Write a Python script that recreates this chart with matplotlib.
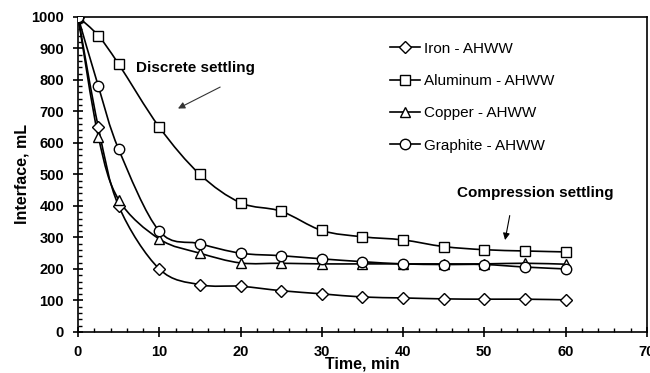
import numpy as np
import matplotlib
matplotlib.use("Agg")
import matplotlib.pyplot as plt
from matplotlib.path import Path
from matplotlib.patches import PathPatch
from matplotlib.lines import Line2D
from matplotlib.ticker import MultipleLocator

plt.rcParams['font.family'] = ['Liberation Sans', 'DejaVu Sans']

# Data (time in min, interface in mL)
time = [0, 2.5, 5, 10, 15, 20, 25, 30, 35, 40, 45, 50, 55, 60]
iron = [1000, 650, 400, 200, 150, 145, 131, 121, 111, 108, 105, 104, 104, 102]
aluminum = [1000, 940, 850, 650, 500, 410, 383, 322, 302, 292, 271, 261, 257, 254]
copper = [1000, 620, 420, 295, 250, 219, 218, 216, 216, 216, 216, 216, 218, 215]
graphite = [1000, 780, 580, 320, 280, 250, 242, 232, 223, 216, 214, 214, 206, 200]

labels = ['Iron - AHWW', 'Aluminum - AHWW', 'Copper - AHWW', 'Graphite - AHWW']
markers = ['D', 's', '^', 'o']
msizes = [6, 7.5, 7.5, 7.5]


def smooth_path(x, y):
    # Excel-like smoothed line: cubic bezier segments (Catmull-Rom)
    pts = np.column_stack([x, y]).astype(float)
    n = len(pts)
    verts = [pts[0]]
    codes = [Path.MOVETO]
    for i in range(n - 1):
        p0 = pts[i - 1] if i > 0 else pts[i]
        p1 = pts[i]
        p2 = pts[i + 1]
        p3 = pts[i + 2] if i + 2 < n else pts[i + 1]
        c1 = p1 + (p2 - p0) / 6.0
        c2 = p2 - (p3 - p1) / 6.0
        verts += [c1, c2, p2]
        codes += [Path.CURVE4] * 3
    return Path(verts, codes)


fig = plt.figure(figsize=(6.5, 3.73), dpi=100)
ax = fig.add_axes([0.12, 0.11, 0.875, 0.845])

handles = []
for ys, m, ms, lab in zip([iron, aluminum, copper, graphite], markers, msizes, labels):
    ax.add_patch(PathPatch(smooth_path(time, ys), fill=False, lw=1.2, ec='black', zorder=2))
    ax.plot(time, ys, ls='none', marker=m, ms=ms, mfc='white', mec='black', mew=1.0, zorder=3)
    handles.append(Line2D([], [], color='black', lw=1.2, marker=m, ms=ms, mfc='white',
                          mec='black', mew=1.0, label=lab))

ax.set_xlim(0, 70)
ax.set_ylim(0, 1000)
ax.xaxis.set_major_locator(MultipleLocator(10))
ax.xaxis.set_minor_locator(MultipleLocator(2))
ax.yaxis.set_major_locator(MultipleLocator(100))
ax.yaxis.set_minor_locator(MultipleLocator(20))
ax.tick_params(which='major', direction='inout', length=7, width=1.2, labelsize=10.5)
ax.tick_params(axis='x', which='major', pad=6)
ax.tick_params(axis='y', which='major', pad=6.5)
ax.tick_params(which='minor', direction='in', length=3, width=1.0)
for lab in ax.get_xticklabels() + ax.get_yticklabels():
    lab.set_fontweight('bold')
for sp in ax.spines.values():
    sp.set_linewidth(1.2)

ax.set_xlabel('Time, min', fontsize=11.5, fontweight='bold', labelpad=-2)
ax.set_ylabel('Interface, mL', fontsize=11.5, fontweight='bold', labelpad=1)

ax.legend(handles=handles, loc='upper left', bbox_to_anchor=(0.535, 0.945),
          frameon=False, fontsize=11, handlelength=2.0, handletextpad=0.2,
          labelspacing=1.2, borderpad=0)

ax.annotate('Discrete settling', xy=(12.0, 705), xytext=(14.4, 838),
            fontsize=11, fontweight='bold', ha='center', va='center')
ax.annotate('', xy=(12.0, 705), xytext=(17.8, 781),
            arrowprops=dict(arrowstyle='-|>', lw=0.8, color='#333333', mutation_scale=10))
ax.annotate('Compression settling', xy=(52.5, 283), xytext=(56.3, 441),
            fontsize=11, fontweight='bold', ha='center', va='center')
ax.annotate('', xy=(52.5, 283), xytext=(53.2, 378),
            arrowprops=dict(arrowstyle='-|>', lw=0.8, color='black', mutation_scale=10))

fig.savefig('out.png', dpi=100)
